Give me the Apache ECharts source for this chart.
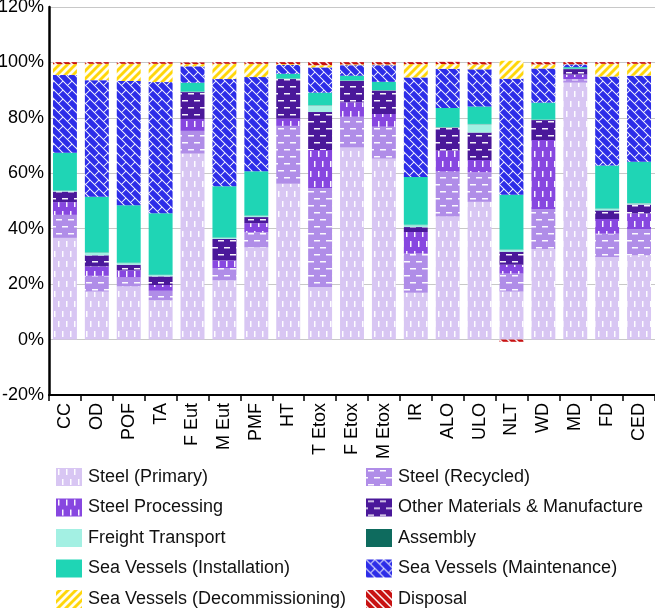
<!DOCTYPE html>
<html>
<head>
<meta charset="utf-8">
<script src="https://cdn.jsdelivr.net/npm/echarts@6/dist/echarts.min.js"></script>
<style>
html,body{margin:0;padding:0;background:#fff;}
#chart{width:655px;height:610px;}
</style>
</head>
<body>
<div id="chart"></div>
<script>
const categories = ['CC','OD','POF','TA','F Eut','M Eut','PMF','HT','T Etox','F Etox','M Etox','IR','ALO','ULO','NLT','WD','MD','FD','CED'];
const yTicks = [-20, 0, 20, 40, 60, 80, 100, 120];

const steelPrimary    = [36.7, 17.3, 19.2, 14.2, 67.1, 21.4, 33.3, 56.2, 19.0, 69.3, 65.3, 16.9, 44.4, 49.7, 17.3, 32.7, 92.7, 29.8, 30.4];
const steelRecycled   = [8.3, 5.7, 3.2, 3.4, 8.2, 4.4, 5.4, 20.9, 35.6, 11.1, 11.5, 14.1, 16.2, 10.7, 6.5, 14.4, 1.2, 8.4, 9.5];
const steelProcessing = [4.6, 3.4, 2.6, 2.1, 4.3, 2.8, 3.3, 2.7, 13.8, 5.2, 4.6, 7.8, 7.6, 4.4, 3.2, 24.9, 1.7, 5.3, 5.6];
const otherMaterials  = [3.8, 4.0, 2.0, 3.1, 9.7, 7.7, 2.2, 14.2, 13.7, 7.7, 8.4, 1.8, 8.2, 9.9, 4.7, 7.2, 2.0, 3.1, 3.2];
const freight         = [0.3, 0.9, 0.6, 0.5, 0.1, 0.4, 0.5, 0.1, 2.4, 0.1, 0.1, 0.7, 0.2, 3.0, 0.7, 0.1, 0.1, 0.6, 0.5];
const assembly        = [0.1, 0.1, 0.1, 0.1, 0.1, 0.1, 0.1, 0.1, 0.1, 0.1, 0.1, 0.1, 0.1, 0.1, 0.1, 0.1, 0.1, 0.1, 0.1];
const installation    = [13.6, 20.1, 20.8, 22.2, 3.2, 18.5, 15.9, 1.7, 4.5, 1.7, 3.0, 17.3, 6.9, 6.3, 19.8, 6.1, 0.5, 15.5, 14.9];
const maintenance     = [28.1, 42.1, 44.8, 47.3, 5.9, 38.7, 34.0, 3.2, 9.1, 3.8, 6.0, 35.9, 14.1, 13.4, 41.8, 12.3, 1.0, 32.1, 31.0];
const decommissioning = [3.9, 5.9, 6.2, 6.6, 0.8, 5.5, 4.8, 0.3, 0.8, 0.3, 0.3, 4.8, 1.7, 1.8, 6.5, 1.5, 0.1, 4.6, 4.3];
const disposal        = [0.7, 0.6, 0.6, 0.6, 0.6, 0.6, 0.6, 0.7, 1.1, 0.8, 0.8, 0.7, 0.8, 0.8, -0.8, 0.8, 0.7, 0.6, 0.6];

const FONT = '"Liberation Sans", Arial, Helvetica, sans-serif';

function tile(w, h, bg, draw) {
  const c = document.createElement('canvas');
  c.width = w; c.height = h;
  const ctx = c.getContext('2d');
  ctx.fillStyle = bg; ctx.fillRect(0, 0, w, h);
  ctx.fillStyle = 'rgba(255,255,255,0.95)';
  ctx.strokeStyle = 'rgba(255,255,255,0.95)';
  if (draw) draw(ctx, w, h);
  return { image: c, repeat: 'repeat' };
}
function vDashes(bg) {
  return tile(8, 20, bg, (ctx) => {
    ctx.fillRect(2, 1, 1.5, 6);
    ctx.fillRect(6, 11, 1.5, 6);
  });
}
function hDashes(bg) {
  return tile(12, 14, bg, (ctx) => {
    ctx.fillRect(2, 2, 6, 1.5);
    ctx.fillRect(8, 9, 6, 1.5);
    ctx.fillRect(-4, 9, 6, 1.5);
  });
}
function brick(bg) {
  const b = 9, h = b / Math.SQRT2, w = 2 * h;
  return tile(b, b, bg, (ctx) => {
    ctx.lineWidth = 1;
    ctx.save();
    ctx.rotate(Math.PI / 4);
    ctx.beginPath();
    for (let r = -10; r <= 10; r++) {
      const y = r * h;
      ctx.moveTo(-100, y); ctx.lineTo(100, y);
      const off = (Math.abs(r) % 2 === 0) ? 0 : w / 2;
      for (let k = -10; k <= 10; k++) {
        const x = k * w + off;
        ctx.moveTo(x, y); ctx.lineTo(x, y + h);
      }
    }
    ctx.stroke();
    ctx.restore();
  });
}
function stripes(bg, dir, lw) {
  return tile(8, 8, bg, (ctx) => {
    ctx.lineWidth = lw;
    ctx.beginPath();
    for (let k = -2; k <= 2; k++) {
      if (dir > 0) { ctx.moveTo(k * 8 - 1, 9); ctx.lineTo(k * 8 + 9, -1); }
      else { ctx.moveTo(k * 8 - 1, -1); ctx.lineTo(k * 8 + 9, 9); }
    }
    ctx.stroke();
  });
}

const seriesDefs = [
  { name: 'Steel (Primary)', data: steelPrimary, color: vDashes('#d8c6f3') },
  { name: 'Steel (Recycled)', data: steelRecycled, color: hDashes('#b08de8') },
  { name: 'Steel Processing', data: steelProcessing, color: vDashes('#8747e0') },
  { name: 'Other Materials & Manufacture', data: otherMaterials, color: hDashes('#4a189a') },
  { name: 'Freight Transport', data: freight, color: '#a3f0e3' },
  { name: 'Assembly', data: assembly, color: '#0e6b5e' },
  { name: 'Sea Vessels (Installation)', data: installation, color: '#1fd5b5' },
  { name: 'Sea Vessels (Maintenance)', data: maintenance, color: brick('#2d2de8') },
  { name: 'Sea Vessels (Decommissioning)', data: decommissioning, color: stripes('#ffd60a', 1, 2.8) },
  { name: 'Disposal', data: disposal, color: stripes('#c81212', -1, 1.5) }
];

const col1 = ['Steel (Primary)', 'Steel Processing', 'Freight Transport', 'Sea Vessels (Installation)', 'Sea Vessels (Decommissioning)'];
const col2 = ['Steel (Recycled)', 'Other Materials & Manufacture', 'Assembly', 'Sea Vessels (Maintenance)', 'Disposal'];

const chart = echarts.init(document.getElementById('chart'), null, { renderer: 'canvas' });
const legendBase = {
  orient: 'vertical', top: 468, height: 142, itemWidth: 26, itemHeight: 18, itemGap: 12.5,
  icon: 'rect', selectedMode: false, padding: 0,
  textStyle: { fontSize: 18, fontFamily: FONT, color: '#111', padding: [0, 0, 0, 1] }
};
chart.setOption({
  animation: false,
  backgroundColor: '#fff',
  grid: { left: 49, right: 0, top: 7, bottom: 215, containLabel: false, outerBoundsMode: 'none' },
  legend: [
    Object.assign({}, legendBase, { left: 56, data: col1 }),
    Object.assign({}, legendBase, { left: 366, data: col2 })
  ],
  xAxis: {
    type: 'category',
    data: categories,
    axisLine: { onZero: false, lineStyle: { color: '#000', width: 2 } },
    axisTick: { show: true, length: 6, lineStyle: { color: '#000', width: 1.5 } },
    axisLabel: { rotate: 90, fontSize: 18, fontFamily: FONT, color: '#000', margin: 8 },
    splitLine: { show: false }
  },
  yAxis: {
    type: 'value',
    min: yTicks[0], max: yTicks[yTicks.length - 1], interval: 20,
    axisLine: { show: true, lineStyle: { color: '#000', width: 2.5 } },
    axisTick: { show: false },
    axisLabel: { formatter: '{value}%', fontSize: 18, fontFamily: FONT, color: '#000', margin: 5 },
    splitLine: { show: true, lineStyle: { color: '#c8c8c8', width: 1 } }
  },
  series: seriesDefs.map(s => ({
    name: s.name,
    type: 'bar',
    stack: 'total',
    data: s.data,
    barCategoryGap: '25%',
    itemStyle: { color: s.color },
    emphasis: { disabled: true }
  }))
});
</script>
</body>
</html>
